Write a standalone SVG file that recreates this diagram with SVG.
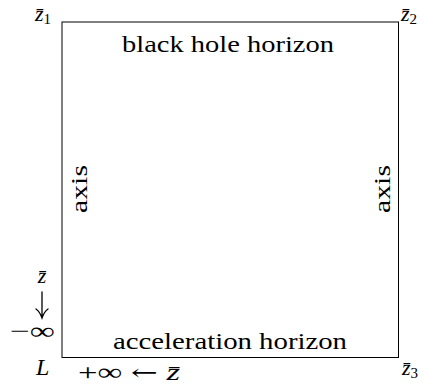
<svg xmlns="http://www.w3.org/2000/svg" width="425" height="388" viewBox="0 0 425 388">
<style>
.t{font-family:"Liberation Serif","Times New Roman",serif;font-size:24px;fill:#000}
.z{font-size:22px}
.i{font-style:italic}
.s{font-size:15px;font-style:normal}
.ar{font-family:"DejaVu Serif","DejaVu Sans",serif;fill:#000}
.arrow{fill:none;stroke:#000;stroke-width:1.3;stroke-linecap:round}
</style>
<rect width="425" height="388" fill="#fff"/>
<g id="region">
<rect x="62" y="22" width="336.5" height="335.5" fill="none" stroke="#000" stroke-width="1"/>
</g>
<g id="connectors">
<path class="arrow" d="M42,292 V317 M36,309 Q40,312 42,318 Q44,312 48,309"/>
</g>
<g id="labels">
<text class="t" x="122" y="52" textLength="212" lengthAdjust="spacingAndGlyphs">black hole horizon</text>
<text class="t" x="113" y="349" textLength="234" lengthAdjust="spacingAndGlyphs">acceleration horizon</text>
<text class="t" transform="translate(87,213) rotate(-90)" textLength="48" lengthAdjust="spacingAndGlyphs">axis</text>
<text class="t" transform="translate(390,213) rotate(-90)" textLength="48" lengthAdjust="spacingAndGlyphs">axis</text>
<text class="t z i" x="35" y="21">z̄<tspan class="s" dy="3">1</tspan></text>
<text class="t z i" x="401" y="21">z̄<tspan class="s" dy="3">2</tspan></text>
<text class="t z i" x="402" y="375">z̄<tspan class="s" dy="3">3</tspan></text>
<text class="t i" x="36" y="375">L</text>
<text class="t" x="78" y="380" textLength="102" lengthAdjust="spacingAndGlyphs">+∞ <tspan class="ar" font-size="22">←</tspan> <tspan class="i">z̄</tspan></text>
<text class="t z i" x="42" y="283" text-anchor="middle">z̄</text>
<text class="t" x="10" y="339" textLength="45" lengthAdjust="spacingAndGlyphs">−∞</text>
</g>
</svg>
